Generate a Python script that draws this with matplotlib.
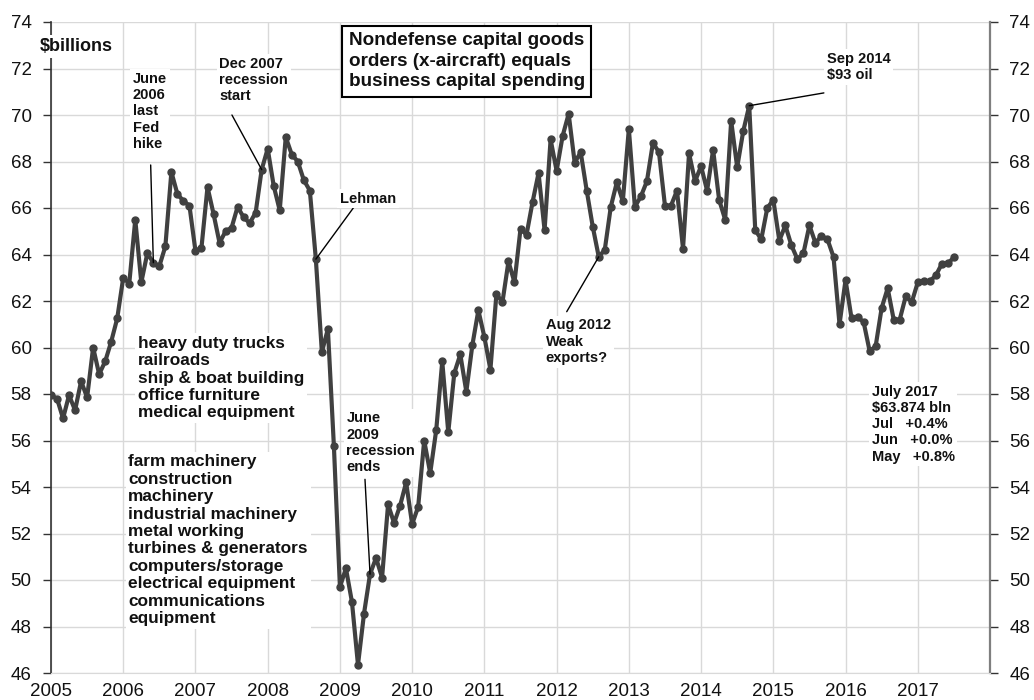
"""Nondefense capital goods orders ex-aircraft, monthly 2005 - July 2017."""

import numpy as np
import matplotlib
matplotlib.use("Agg")
import matplotlib.pyplot as plt

plt.rcParams["font.family"] = ["Liberation Sans", "DejaVu Sans"]

# monthly values, $billions (Jan 2005 .. Jul 2017)
v2005 = [57.95, 57.8, 56.95, 57.95, 57.3, 58.55, 57.85, 60.0, 58.85, 59.4, 60.25, 61.25]
v2006 = [63.0, 62.75, 65.5, 62.8, 64.05, 63.65, 63.5, 64.35, 67.55, 66.6, 66.3, 66.1]
v2007 = [64.15, 64.3, 66.9, 65.75, 64.5, 65.0, 65.15, 66.05, 65.6, 65.35, 65.8, 67.65]
v2008 = [68.55, 66.95, 65.9, 69.05, 68.3, 68.0, 67.2, 66.75, 63.8, 59.8, 60.8, 55.75]
v2009 = [49.7, 50.5, 49.05, 46.35, 48.55, 50.25, 50.95, 50.1, 53.25, 52.45, 53.2, 54.2]
v2010 = [52.4, 53.15, 56.0, 54.6, 56.45, 59.4, 56.35, 58.9, 59.7, 58.1, 60.1, 61.6]
v2011 = [60.45, 59.05, 62.3, 61.95, 63.7, 62.8, 65.1, 64.85, 66.25, 67.5, 65.05, 68.95]
v2012 = [67.6, 69.1, 70.05, 67.95, 68.4, 66.75, 65.2, 63.9, 64.2, 66.05, 67.1, 66.3]
v2013 = [69.4, 66.05, 66.5, 67.15, 68.8, 68.4, 66.1, 66.1, 66.75, 64.25, 68.35, 67.15]
v2014 = [67.8, 66.75, 68.5, 66.35, 65.5, 69.75, 67.75, 69.3, 70.4, 65.05, 64.65, 66.0]
v2015 = [66.35, 64.6, 65.25, 64.4, 63.8, 64.05, 65.25, 64.5, 64.8, 64.65, 63.9, 61.0]
v2016 = [62.9, 61.25, 61.3, 61.1, 59.85, 60.05, 61.7, 62.55, 61.2, 61.2, 62.2, 61.95]
v2017 = [62.8, 62.85, 62.85, 63.1, 63.6, 63.62, 63.874]

values = np.array(v2005 + v2006 + v2007 + v2008 + v2009 + v2010 + v2011
                  + v2012 + v2013 + v2014 + v2015 + v2016 + v2017)
start_year = 2005
dates = start_year + np.arange(len(values)) / 12.0

year_ticks = list(range(2005, 2018))
y_ticks = list(range(46, 75, 2))

TXT = "#111111"
LINE = "#404040"
GRID = "#d9d9d9"

fig = plt.figure(figsize=(10.34, 7.0), dpi=100)
ax = fig.add_axes([51 / 1034, 1 - 673 / 700, (990 - 51) / 1034, (673 - 22) / 700])

ax.plot(dates, values, color=LINE, lw=3.0, marker="o", ms=5.0, zorder=3)

ax.set_xlim(2005, 2018)
ax.set_ylim(46, 74)
ax.set_xticks(year_ticks)
ax.set_xticklabels([str(y) for y in year_ticks])
ax.set_yticks(y_ticks)
ax.grid(True, color=GRID, lw=1.0, zorder=0)
ax.set_axisbelow(True)

ax.tick_params(axis="y", which="both", left=True, right=True, labelleft=True,
               labelright=True, direction="out", length=6, width=1.0,
               labelsize=13.5, pad=8, colors="#333333", labelcolor=TXT)
ax.tick_params(axis="x", length=0, labelsize=13.5, pad=7, labelcolor=TXT)

ax.spines["top"].set_visible(False)
ax.spines["bottom"].set_color(GRID)
ax.spines["left"].set_color("#333333")
ax.spines["left"].set_linewidth(1.2)
ax.spines["right"].set_color("#7f7f7f")
ax.spines["right"].set_linewidth(1.6)

wbox = dict(facecolor="white", edgecolor="none", pad=2)


def note(x, y, s, size=10.5, **kw):
    ax.text(x, y, s, fontsize=size, fontweight="bold", color=TXT, ha="left",
            va="top", linespacing=1.2, bbox=wbox, zorder=5, **kw)


def leader(x0, y0, x1, y1):
    ax.annotate("", xy=(x1, y1), xytext=(x0, y0),
                arrowprops=dict(arrowstyle="-", color="black", lw=1.0,
                                shrinkA=0, shrinkB=0), zorder=4)


ax.text(2004.85, 72.95, "$billions", fontsize=13, fontweight="bold", color=TXT,
        ha="left", va="center", bbox=wbox, zorder=5)

note(2006.13, 71.85, "June\n2006\nlast\nFed\nhike")
leader(2006.38, 67.85, 2006.417, 63.65)

note(2007.33, 72.5, "Dec 2007\nrecession\nstart")
leader(2007.505, 70.0, 2007.917, 67.65)

ax.text(2009.0, 66.4, "Lehman", fontsize=10.5, fontweight="bold", color=TXT,
        ha="left", va="center", bbox=wbox, zorder=5)
leader(2009.185, 66.0, 2008.667, 63.8)

ax.text(2009.12, 73.55,
        "Nondefense capital goods\norders (x-aircraft) equals\nbusiness capital spending",
        fontsize=13.6, fontweight="bold", color=TXT, ha="left", va="top",
        linespacing=1.27, zorder=6,
        bbox=dict(facecolor="white", edgecolor="black", lw=1.5, boxstyle="square,pad=0.35"))

note(2011.85, 61.25, "Aug 2012\nWeak\nexports?")
leader(2012.14, 61.54, 2012.583, 63.9)

note(2015.74, 72.7, "Sep 2014\n$93 oil")
leader(2015.70, 70.95, 2014.667, 70.4)

note(2009.09, 57.25, "June\n2009\nrecession\nends")
leader(2009.347, 54.33, 2009.417, 50.25)

note(2016.36, 58.4, "July 2017\n$63.874 bln\nJul   +0.4%\nJun   +0.0%\nMay   +0.8%")

note(2006.2, 60.5,
     "heavy duty trucks\nrailroads\nship & boat building\noffice furniture\nmedical equipment",
     size=12.4)
note(2006.07, 55.4,
     "farm machinery\nconstruction\nmachinery\nindustrial machinery\nmetal working\n"
     "turbines & generators\ncomputers/storage\nelectrical equipment\ncommunications\nequipment",
     size=12.4)

fig.savefig("out.png", dpi=100)
